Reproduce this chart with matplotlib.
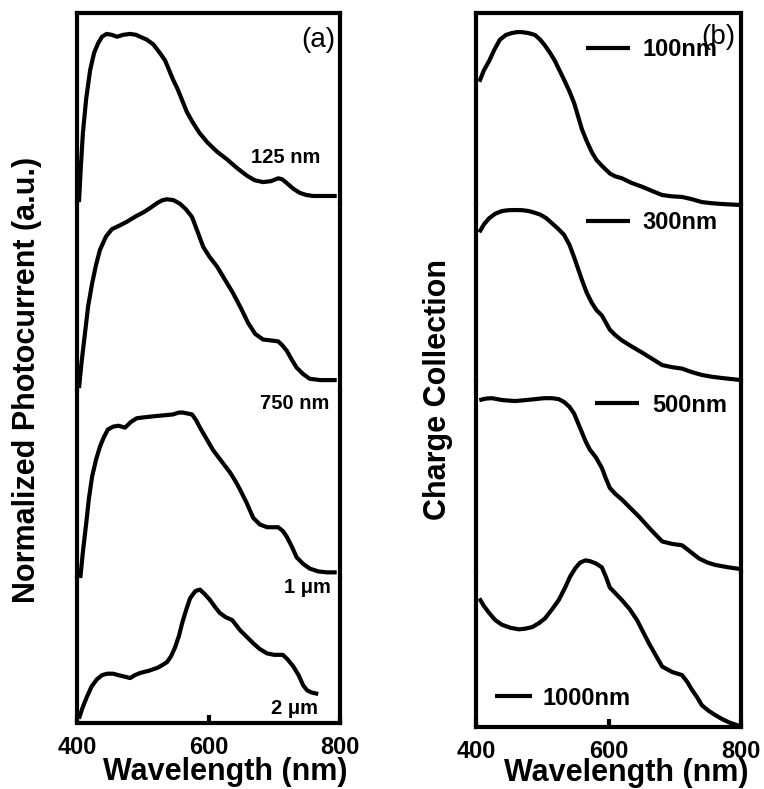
import numpy as np
import matplotlib.pyplot as plt

plt.rcParams['font.family'] = ['Liberation Sans', 'DejaVu Sans']
plt.rcParams['font.weight'] = 'bold'
plt.rcParams['axes.labelweight'] = 'bold'

# (a) normalized photocurrent vs wavelength, one trace per thickness
wl_a125 = [403, 406, 409, 414, 420, 426, 432, 438, 445, 453, 461, 470, 481, 490, 496,
           506, 516, 526, 534, 540, 546, 553, 560, 567, 575, 586, 598, 613, 628, 643,
           658, 670, 683, 695, 706, 712, 719, 729, 739, 749, 759, 795]
pc_a125 = [0.005, 0.2, 0.37, 0.55, 0.70, 0.79, 0.84, 0.875, 0.89, 0.885, 0.875, 0.885,
           0.89, 0.885, 0.875, 0.86, 0.835, 0.79, 0.75, 0.70, 0.65, 0.60, 0.54, 0.48,
           0.43, 0.37, 0.32, 0.27, 0.23, 0.185, 0.145, 0.12, 0.11, 0.115, 0.13, 0.125,
           0.105, 0.075, 0.053, 0.042, 0.037, 0.037]

wl_a750 = [403, 407, 412, 417, 423, 429, 435, 444, 453, 465, 476, 490, 501, 512, 522,
           530, 537, 547, 557, 566, 575, 583, 592, 602, 613, 625, 637, 649, 660, 671,
           683, 695, 706, 712, 719, 727, 734, 744, 754, 770, 795]
pc_a750 = [0.01, 0.15, 0.30, 0.45, 0.57, 0.67, 0.75, 0.82, 0.86, 0.88, 0.90, 0.93,
           0.95, 0.975, 1.0, 1.015, 1.02, 1.015, 0.995, 0.965, 0.925, 0.85, 0.765, 0.71,
           0.66, 0.59, 0.52, 0.44, 0.36, 0.30, 0.27, 0.265, 0.26, 0.24, 0.21, 0.16, 0.12,
           0.085, 0.06, 0.053, 0.053]

wl_a1um = [405, 409, 414, 418, 423, 429, 435, 441, 447, 455, 463, 468, 473, 482, 491,
           503, 516, 531, 546, 555, 561, 568, 575, 581, 587, 597, 607, 620, 633, 641,
           648, 658, 668, 678, 689, 698, 706, 713, 719, 727, 734, 744, 754, 767, 780, 795]
pc_a1um = [0.0, 0.14, 0.29, 0.42, 0.54, 0.63, 0.70, 0.75, 0.79, 0.805, 0.81, 0.805,
           0.80, 0.83, 0.85, 0.855, 0.86, 0.865, 0.87, 0.88, 0.88, 0.875, 0.87, 0.84,
           0.80, 0.74, 0.68, 0.62, 0.56, 0.515, 0.47, 0.40, 0.32, 0.285, 0.27, 0.27,
           0.27, 0.25, 0.22, 0.165, 0.11, 0.075, 0.05, 0.035, 0.03, 0.03]

wl_a2um = [403, 408, 415, 422, 430, 438, 446, 455, 463, 472, 481, 488, 496, 509, 522,
           530, 537, 543, 549, 555, 560, 566, 572, 580, 587, 594, 602, 610, 617, 626,
           636, 642, 648, 658, 668, 678, 689, 700, 713, 720, 729, 737, 744, 750, 757, 767]
pc_a2um = [0.03, 0.10, 0.18, 0.25, 0.30, 0.33, 0.34, 0.34, 0.33, 0.32, 0.31, 0.33,
           0.345, 0.36, 0.38, 0.40, 0.42, 0.46, 0.52, 0.60, 0.69, 0.78, 0.86, 0.91,
           0.92, 0.89, 0.85, 0.80, 0.76, 0.73, 0.71, 0.675, 0.64, 0.595, 0.55, 0.51,
           0.48, 0.47, 0.47, 0.44, 0.39, 0.33, 0.26, 0.225, 0.21, 0.20]

labels_a = ['125 nm', '750 nm', '1 \u03bcm', '2 \u03bcm']

# (b) charge collection vs wavelength
wl_b100 = [405, 412, 420, 428, 436, 445, 454, 462, 469, 479, 489, 497, 504, 512, 519,
           526, 533, 541, 548, 554, 560, 567, 575, 582, 590, 596, 602, 610, 620, 635,
           651, 666, 681, 696, 711, 726, 741, 756, 771, 798]
cc_b100 = [0.64, 0.70, 0.75, 0.81, 0.86, 0.885, 0.895, 0.90, 0.90, 0.895, 0.885, 0.86,
           0.83, 0.79, 0.75, 0.70, 0.65, 0.59, 0.53, 0.46, 0.39, 0.33, 0.27, 0.23, 0.20,
           0.18, 0.16, 0.145, 0.135, 0.11, 0.09, 0.068, 0.047, 0.04, 0.037, 0.025, 0.01,
           0.004, 0.0, -0.005]

wl_b300 = [405, 412, 420, 429, 439, 449, 459, 470, 480, 489, 497, 506, 515, 524, 533,
           541, 548, 554, 560, 567, 575, 582, 590, 596, 602, 610, 620, 635, 651, 666,
           681, 696, 711, 726, 741, 756, 771, 798]
cc_b300 = [0.84, 0.885, 0.92, 0.945, 0.96, 0.965, 0.966, 0.965, 0.96, 0.95, 0.94, 0.92,
           0.89, 0.86, 0.825, 0.77, 0.70, 0.635, 0.57, 0.50, 0.44, 0.40, 0.37, 0.33,
           0.29, 0.26, 0.23, 0.195, 0.16, 0.125, 0.09, 0.078, 0.07, 0.05, 0.034, 0.024,
           0.017, 0.006]

wl_b500 = [405, 415, 424, 440, 459, 475, 489, 503, 515, 525, 533, 541, 548, 554, 560,
           566, 572, 581, 590, 596, 602, 610, 620, 633, 646, 663, 681, 696, 711, 724,
           737, 749, 761, 780, 798]
cc_b500 = [0.90, 0.908, 0.91, 0.90, 0.895, 0.90, 0.905, 0.91, 0.91, 0.905, 0.89, 0.865,
           0.83, 0.78, 0.73, 0.68, 0.64, 0.60, 0.545, 0.49, 0.44, 0.41, 0.38, 0.335,
           0.29, 0.225, 0.16, 0.147, 0.14, 0.105, 0.07, 0.05, 0.037, 0.025, 0.016]

wl_b1000 = [405, 412, 420, 429, 439, 452, 465, 475, 485, 495, 504, 515, 525, 534, 542,
            550, 557, 565, 572, 581, 590, 596, 602, 611, 620, 632, 643, 652, 661, 671,
            681, 696, 711, 719, 726, 734, 741, 751, 761, 772, 782, 798]
cc_b1000 = [0.83, 0.78, 0.735, 0.69, 0.66, 0.64, 0.63, 0.635, 0.645, 0.67, 0.70, 0.76,
            0.82, 0.895, 0.97, 1.025, 1.06, 1.075, 1.07, 1.055, 1.03, 0.97, 0.90, 0.86,
            0.82, 0.76, 0.69, 0.615, 0.54, 0.465, 0.39, 0.355, 0.335, 0.29, 0.24, 0.19,
            0.14, 0.105, 0.077, 0.05, 0.03, 0.006]

labels_b = ['100nm', '300nm', '500nm', '1000nm']

fig = plt.figure(figsize=(7.64, 7.89), dpi=100)


def stacked_panel(ratios, left, right, top, bottom):
    gs = fig.add_gridspec(4, 1, height_ratios=ratios, hspace=0,
                          left=left, right=right, top=top, bottom=bottom)
    axs = []
    for i in range(4):
        ax = fig.add_subplot(gs[i])
        ax.set_xlim(400, 800)
        ax.set_ylim(0, 1)
        ax.patch.set_visible(False)
        for s in ax.spines.values():
            s.set_linewidth(3)
        if i > 0:
            ax.spines['top'].set_visible(False)
        if i < 3:
            ax.spines['bottom'].set_visible(False)
        ax.tick_params(left=False, labelleft=False, bottom=(i == 3), labelbottom=(i == 3))
        axs.append(ax)
    bot = axs[-1]
    bot.set_xticks([400, 600, 800])
    bot.tick_params(axis='x', direction='in', length=6, width=3, labelsize=17, pad=9)
    return axs


line_kw = dict(color='black', lw=3, clip_on=False,
               solid_joinstyle='round', solid_capstyle='butt')

# panel (a)
axa = stacked_panel([190, 187, 188, 145], 77 / 764, 340 / 764, 1 - 13 / 789, 1 - 723 / 789)
series_a = [(wl_a125, pc_a125), (wl_a750, pc_a750), (wl_a1um, pc_a1um), (wl_a2um, pc_a2um)]
for ax, (x, y) in zip(axa, series_a):
    ax.plot(x, y, **line_kw)

label_pos_a = [(718, 0.237), (731, -0.07), (751, -0.053), (731, 0.10)]
for ax, lab, (lx, ly) in zip(axa, labels_a, label_pos_a):
    ax.text(lx, ly, lab, fontsize=14.5, ha='center', va='center')
axa[0].text(0.916, 0.858, '(a)', transform=axa[0].transAxes, fontsize=20,
            fontweight='normal', ha='center', va='center')
axa[-1].set_xlabel('Wavelength (nm)', fontsize=22)
axa[-1].xaxis.set_label_coords(0.563, -0.235)

# panel (b)
axb = stacked_panel([191, 177, 191, 155], 476 / 764, 741 / 764, 1 - 13 / 789, 1 - 727 / 789)
series_b = [(wl_b100, cc_b100), (wl_b300, cc_b300), (wl_b500, cc_b500), (wl_b1000, cc_b1000)]
leg_pos_b = [(0.415, 0.81, 1.86, 0.55), (0.415, 0.893, 1.86, 0.55),
             (0.449, 0.874, 1.86, 0.55), (0.072, 0.187, 1.57, 0.42)]
for ax, (x, y), lab, (lx, ly, hl, tp) in zip(axb, series_b, labels_b, leg_pos_b):
    ax.plot(x, y, label=lab, **line_kw)
    ax.legend(loc='center left', bbox_to_anchor=(lx, ly), frameon=False,
              handlelength=hl, handletextpad=tp, borderpad=0, borderaxespad=0,
              prop={'size': 17, 'weight': 'bold'})
axb[0].text(0.913, 0.874, '(b)', transform=axb[0].transAxes, fontsize=20,
            fontweight='normal', ha='center', va='center')
axb[-1].set_xlabel('Wavelength (nm)', fontsize=22)
axb[-1].xaxis.set_label_coords(0.566, -0.20)

fig.text(27 / 764, 1 - 380 / 789, 'Normalized Photocurrent (a.u.)', rotation=90,
         fontsize=22, ha='center', va='center')
fig.text(438 / 764, 1 - 390 / 789, 'Charge Collection', rotation=90,
         fontsize=22, ha='center', va='center')

fig.savefig('out.png', dpi=100)
